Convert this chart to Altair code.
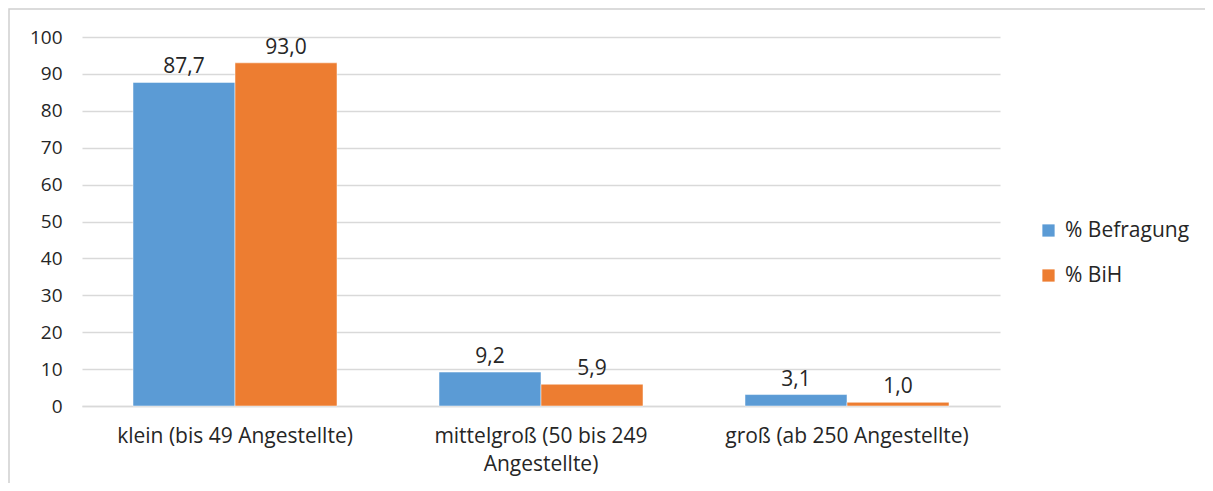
import altair as alt
import pandas as pd

categories = ["klein (bis 49 Angestellte)", "mittelgroß (50 bis 249 Angestellte)", "groß (ab 250 Angestellte)"]
series = ["% Befragung", "% BiH"]
befragung = [87.7, 9.2, 3.1]
bih = [93.0, 5.9, 1.0]
colors = ["#5b9bd5", "#ed7d31"]

rows = []
for i, c in enumerate(categories):
    for s, vals in zip(series, [befragung, bih]):
        v = vals[i]
        rows.append({"cat": c, "series": s, "value": v, "label": f"{v:.1f}".replace(".", ",")})
df = pd.DataFrame(rows)

FONT = "Open Sans"

x = alt.X("cat:N", sort=categories, title=None,
          scale=alt.Scale(paddingInner=1/3, paddingOuter=1/6),
          axis=alt.Axis(labelAngle=0, labelFontSize=21, labelColor="#262626", labelFont=FONT,
                        labelPadding=19, ticks=False, domainColor="#d9d9d9", domainWidth=1.5,
                        labelLimit=400, labelLineHeight=28,
                        labelExpr="datum.value == 'mittelgroß (50 bis 249 Angestellte)' ? ['mittelgroß (50 bis 249', 'Angestellte)'] : datum.value"))
y = alt.Y("value:Q", title=None,
          scale=alt.Scale(domain=[0, 100], nice=False),
          axis=alt.Axis(values=list(range(0, 101, 10)), labelFontSize=19, labelColor="#262626",
                        labelFont=FONT, labelPadding=20, ticks=False, domain=False,
                        gridColor="#d9d9d9", gridWidth=1.5))
color = alt.Color("series:N", sort=series, title=None,
                  scale=alt.Scale(domain=series, range=colors),
                  legend=alt.Legend(orient="none", legendX=956, legendY=183, symbolType="square",
                                    symbolSize=150, symbolStrokeWidth=0, labelFontSize=21,
                                    labelFont=FONT, labelColor="#262626", rowPadding=23,
                                    labelOffset=6))

bars = alt.Chart(df).mark_bar(stroke="white", strokeWidth=0.5).encode(
    x=x, y=y, color=color, xOffset=alt.XOffset("series:N", sort=series)
)
text = alt.Chart(df).mark_text(baseline="bottom", dy=-5, fontSize=21, font=FONT, color="#262626").encode(
    x=x, y=y, xOffset=alt.XOffset("series:N", sort=series), text="label:N"
)
border = alt.Chart(pd.DataFrame({"a": [0]})).mark_rect(fill=None, stroke="#d0d0d0", strokeWidth=1.5).encode(
    x=alt.value(-73), x2=alt.value(1200), y=alt.value(-28), y2=alt.value(500)
)

chart = alt.layer(border, bars, text).properties(
    width=918, height=369,
    autosize=alt.AutoSizeParams(type="none"),
    padding={"left": 74, "top": 29, "right": 205, "bottom": 77},
).configure_view(stroke=None)

chart.save("out.html", embed_options={"renderer": "svg", "actions": False})
